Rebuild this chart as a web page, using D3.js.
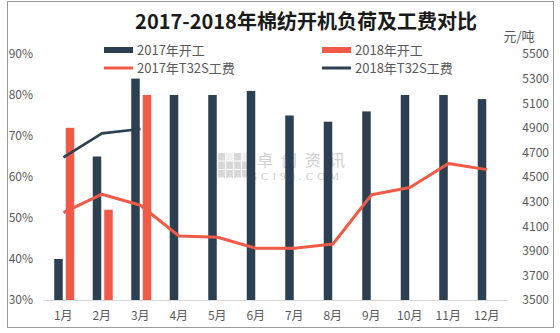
<!DOCTYPE html>
<html>
<head>
<meta charset="utf-8">
<script src="https://cdn.jsdelivr.net/npm/d3@7"></script>
<style>
  html, body { margin: 0; padding: 0; background: #fff; }
  svg { display: block; }
  text { font-family: "Noto Sans CJK SC", "Liberation Sans", sans-serif; }
</style>
</head>
<body>
<svg id="chart" width="560" height="333"></svg>
<script>
// Months along the x axis
const months = ["1月","2月","3月","4月","5月","6月","7月","8月","9月","10月","11月","12月"];

// Spinning-mill operating rate (%)
const run2017 = [40, 65, 84, 80, 80, 81, 75, 73.5, 76, 80, 80, 79];
const run2018 = [72, 52, 80, null, null, null, null, null, null, null, null, null];

// T32S processing fee (yuan/ton)
const fee2017 = [4210, 4360, 4270, 4020, 4010, 3920, 3920, 3955, 4355, 4415, 4610, 4560];
const fee2018 = [4660, 4855, 4890, null, null, null, null, null, null, null, null, null];

// Axis ticks
const leftTicks = [30, 40, 50, 60, 70, 80, 90];
const rightTicks = [3500, 3700, 3900, 4100, 4300, 4500, 4700, 4900, 5100, 5300, 5500];

const title = "2017-2018年棉纺开机负荷及工费对比";
const rightUnit = "元/吨";
const legendItems = [
  { label: "2017年开工", kind: "bar", color: "#2c4051" },
  { label: "2018年开工", kind: "bar", color: "#f25a48" },
  { label: "2017年T32S工费", kind: "line", color: "#f25a48" },
  { label: "2018年T32S工费", kind: "line", color: "#2c4051" }
];

const DARK = "#2c4051", RED = "#f25a48", TXT = "#595959";
const plot = { left: 45, right: 507, top: 54, bottom: 300 };

const svg = d3.select("#chart");

// outer frame
svg.append("rect")
  .attr("x", 7.5).attr("y", 1.5).attr("width", 546).attr("height", 326)
  .attr("fill", "#fff").attr("stroke", "#9a9a9a").attr("stroke-width", 1);

// scales
const x0 = d3.scaleBand().domain(months).range([plot.left, plot.right])
  .paddingInner(0.48).paddingOuter(0.24);
const x1 = d3.scaleBand().domain(["2017", "2018"]).range([0, x0.bandwidth()])
  .paddingInner(0.26);
const yL = d3.scaleLinear().domain([30, 90]).range([plot.bottom, plot.top]);
const yR = d3.scaleLinear().domain([3500, 5500]).range([plot.bottom, plot.top]);
const cx = m => x0(m) + x0.bandwidth() / 2 - 0.8;

// watermark
const wm = svg.append("g").attr("opacity", 0.6);
const cells = d3.range(12);
wm.selectAll("rect").data(cells).join("rect")
  .attr("x", i => 218 + (i % 4) * 8)
  .attr("y", i => 153 + Math.floor(i / 4) * 8.5)
  .attr("width", 7).attr("height", 7.5)
  .attr("fill", i => (i < 4 && i % 2 === 1) ? "#e6e6e6" : "#bdbdbd");
wm.append("text").attr("x", 257).attr("y", 166)
  .attr("font-size", 16).attr("fill", "#b0b0b0").attr("letter-spacing", 8)
  .text("卓创资讯");
wm.append("text").attr("x", 251).attr("y", 180)
  .attr("font-size", 11).attr("fill", "#b0b0b0").attr("letter-spacing", 4)
  .style("font-family", "'Liberation Serif', serif")
  .text("SCI99.COM");

// baseline
svg.append("line")
  .attr("x1", plot.left - 2).attr("x2", plot.right + 1)
  .attr("y1", plot.bottom + 0.5).attr("y2", plot.bottom + 0.5)
  .attr("stroke", "#d9d9d9").attr("stroke-width", 1);

// bars
const barData = [];
months.forEach((m, i) => {
  if (run2017[i] != null) barData.push({ m, s: "2017", v: run2017[i], c: DARK });
  if (run2018[i] != null) barData.push({ m, s: "2018", v: run2018[i], c: RED });
});
svg.append("g").selectAll("rect").data(barData).join("rect")
  .attr("x", d => x0(d.m) + x1(d.s))
  .attr("y", d => yL(d.v))
  .attr("width", x1.bandwidth())
  .attr("height", d => yL(30) - yL(d.v))
  .attr("fill", d => d.c);

// fee lines
const line = d3.line()
  .defined(d => d.v != null)
  .x(d => cx(d.m))
  .y(d => yR(d.v));
svg.append("path")
  .datum(months.map((m, i) => ({ m, v: fee2017[i] })))
  .attr("d", line).attr("fill", "none")
  .attr("stroke", RED).attr("stroke-width", 3).attr("stroke-linejoin", "round");
svg.append("path")
  .datum(months.map((m, i) => ({ m, v: fee2018[i] })))
  .attr("d", line).attr("fill", "none")
  .attr("stroke", DARK).attr("stroke-width", 2.6).attr("stroke-linejoin", "round");

// axes
const axL = svg.append("g").attr("transform", "translate(33,0)")
  .call(d3.axisLeft(yL).tickValues(leftTicks).tickSize(0).tickPadding(0)
    .tickFormat(d => d + "%"));
const axR = svg.append("g").attr("transform", "translate(549,0)")
  .call(d3.axisLeft(yR).tickValues(rightTicks).tickSize(0).tickPadding(0)
    .tickFormat(d3.format("d")));
const axB = svg.append("g").attr("transform", `translate(0,${plot.bottom})`)
  .call(d3.axisBottom(x0).tickSize(0).tickPadding(11));
[axL, axR, axB].forEach(a => {
  a.select(".domain").remove();
  a.selectAll("text")
    .attr("fill", TXT)
    .style("font-family", "'Noto Sans CJK SC', sans-serif")
    .attr("font-size", 12);
});
axB.selectAll("text").attr("dx", -1);

// right axis unit
svg.append("text").attr("x", 519).attr("y", 41)
  .attr("text-anchor", "middle").attr("font-size", 13).attr("fill", TXT)
  .text(rightUnit);

// title
svg.append("text").attr("x", 306).attr("y", 29)
  .attr("text-anchor", "middle").attr("font-size", 20).attr("font-weight", "bold")
  .attr("fill", "#1a1a1a")
  .text(title);

// legend
const legPos = [
  { x: 104, y: 50 }, { x: 322, y: 50 },
  { x: 104, y: 68 }, { x: 322, y: 68 }
];
const leg = svg.append("g").selectAll("g").data(legendItems).join("g")
  .attr("transform", (d, i) => `translate(${legPos[i].x},${legPos[i].y})`);
leg.filter(d => d.kind === "bar").append("rect")
  .attr("x", 0).attr("y", -3).attr("width", 29).attr("height", 6)
  .attr("fill", d => d.color);
leg.filter(d => d.kind === "line").append("line")
  .attr("x1", 0).attr("x2", 29).attr("y1", 0).attr("y2", 0)
  .attr("stroke", d => d.color).attr("stroke-width", 3);
leg.append("text").attr("x", 33).attr("y", 0).attr("dy", "0.35em")
  .attr("font-size", 13).attr("fill", TXT)
  .text(d => d.label);
</script>
</body>
</html>
